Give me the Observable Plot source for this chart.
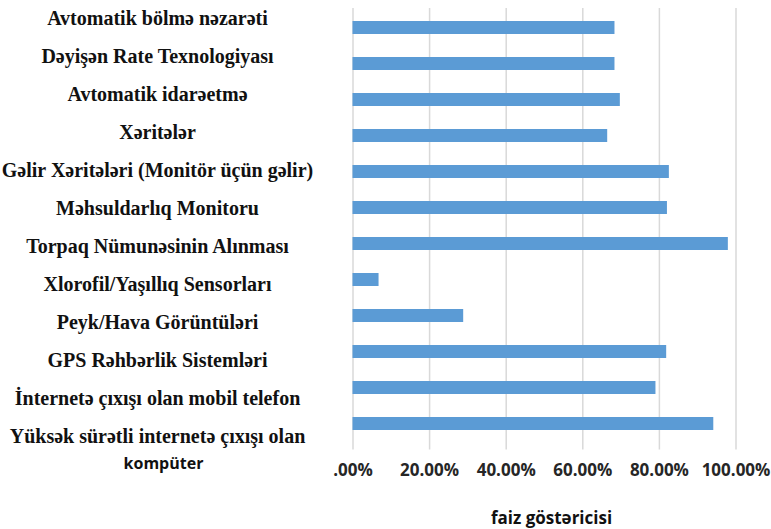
<!DOCTYPE html>
<html>
<head>
<meta charset="utf-8">
<script src="https://cdn.jsdelivr.net/npm/d3@7"></script>
<script src="https://cdn.jsdelivr.net/npm/@observablehq/plot@0.6"></script>
<style>
  html, body { margin: 0; padding: 0; background: #fff; }
  #wrap { position: relative; width: 771px; height: 529px; }
  #wrap svg { display: block; }
  #labels { position: absolute; left: 0; top: 0; }
  #labels svg { background: transparent !important; }
</style>
</head>
<body>
<div id="wrap"><div id="chart"></div><div id="labels"></div></div>
<script>
const categories = [
  "Avtomatik bölmə nəzarəti",
  "Dəyişən Rate Texnologiyası",
  "Avtomatik idarəetmə",
  "Xəritələr",
  "Gəlir Xəritələri (Monitör üçün gəlir)",
  "Məhsuldarlıq Monitoru",
  "Torpaq Nümunəsinin Alınması",
  "Xlorofil/Yaşıllıq Sensorları",
  "Peyk/Hava Görüntüləri",
  "GPS Rəhbərlik Sistemləri",
  "İnternetə çıxışı olan mobil telefon",
  "Yüksək sürətli internetə çıxışı olan"
];
const secondLines = ["", "", "", "", "", "", "", "", "", "", "", "kompüter"];
const values = [0.684, 0.684, 0.698, 0.665, 0.826, 0.821, 0.980, 0.068, 0.289, 0.819, 0.791, 0.942];
const tickValues = [0, 0.2, 0.4, 0.6, 0.8, 1.0];
const tickLabels = [".00%", "20.00%", "40.00%", "60.00%", "80.00%", "100.00%"];
const axisTitle = "faiz göstəricisi";

const data = categories.map((c, i) => ({category: c, value: values[i], line2: secondLines[i]}));

const serif = "Liberation Serif, Times New Roman, serif";
const sans = "Open Sans, Noto Sans, sans-serif";

const plot = Plot.plot({
  width: 771,
  height: 529,
  marginLeft: 352.5,
  marginRight: 35.5,
  marginTop: 8,
  marginBottom: 85.5,
  style: {background: "#fff", fontFamily: sans},
  x: {domain: [0, 1], axis: null},
  y: {domain: categories, axis: null, paddingInner: 0.63, paddingOuter: 0.31},
  marks: [
    Plot.ruleX(tickValues, {stroke: "#d9d9d9", strokeWidth: 1.5, insetBottom: -6}),
    Plot.barX(data, {x: "value", y: "category", fill: "#5b9bd5"}),
    Plot.axisX({
      ticks: tickValues,
      tickFormat: (d) => tickLabels[tickValues.indexOf(d)],
      tickSize: 0,
      tickPadding: 20,
      fontSize: 17,
      fontWeight: "bold",
      fill: "#262626",
      label: null
    }),
    Plot.text([axisTitle], {
      text: (d) => d,
      frameAnchor: "bottom",
      dx: 7,
      dy: 80,
      fontFamily: sans,
      fontWeight: "bold",
      fontSize: 17,
      fill: "#111"
    })
  ]
});
document.getElementById("chart").appendChild(plot);

// Category labels (the reference's label column is spaced slightly differently from the bars)
const labelPlot = Plot.plot({
  width: 314,
  height: 529,
  marginLeft: 0,
  marginRight: 0,
  marginTop: 18,
  marginBottom: 93,
  style: {background: "transparent"},
  x: {axis: null},
  y: {type: "point", domain: categories, axis: null, padding: 0},
  marks: [
    Plot.text(data, {
      y: "category",
      text: "category",
      textAnchor: "middle",
      fontFamily: serif,
      fontWeight: "bold",
      fontSize: 20,
      fill: "#111"
    }),
    Plot.text(data.filter(d => d.line2), {
      y: "category",
      text: "line2",
      textAnchor: "middle",
      dx: 6,
      dy: 27,
      fontFamily: sans,
      fontWeight: "bold",
      fontSize: 16,
      fill: "#111"
    })
  ]
});
document.getElementById("labels").appendChild(labelPlot);
</script>
</body>
</html>
